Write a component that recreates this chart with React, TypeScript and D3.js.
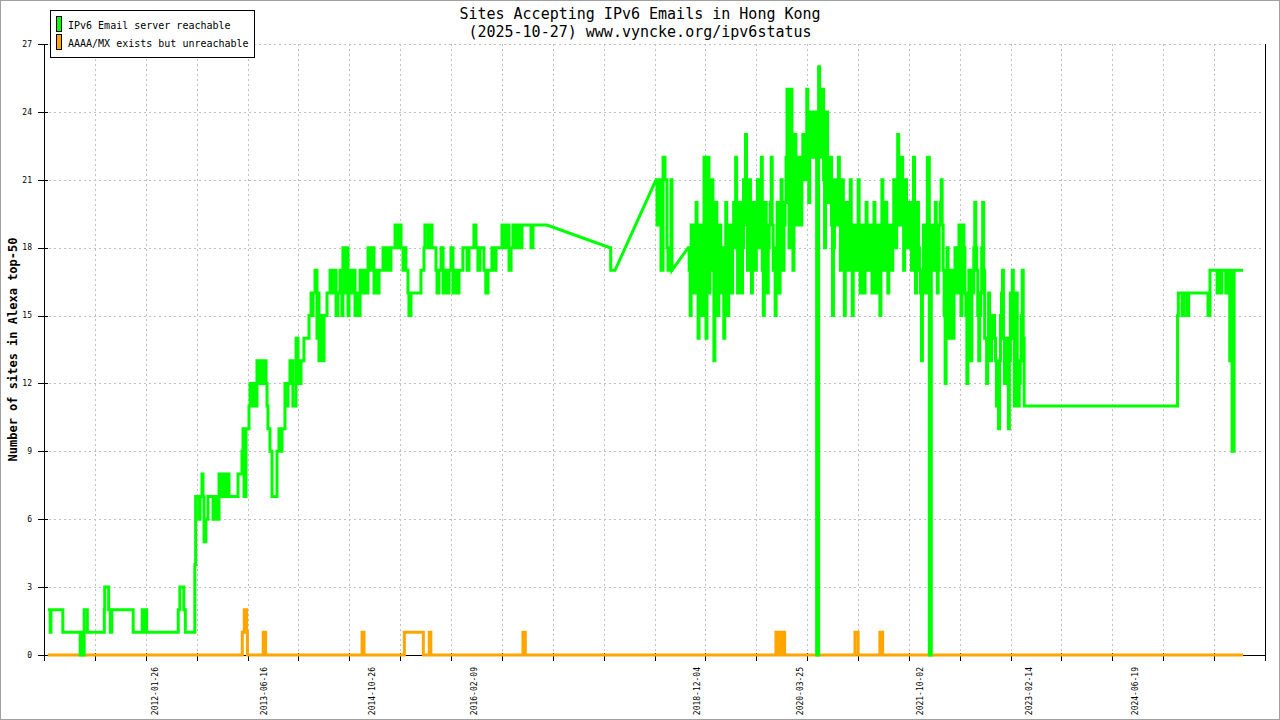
import React from 'react';
import * as d3 from 'd3';

type Pt = [number, number]; // [decimal year, sites]

// IPv6 email server reachable (decimal year, count)
const reachable: Pt[] = [
  [2010.75, 2], [2010.78, 1], [2010.79, 2], [2010.93, 2], [2010.94, 1], [2011.15, 1], [2011.16, 0], [2011.19, 1], [2011.2, 0], [2011.21, 2],
  [2011.25, 1], [2011.46, 1], [2011.465, 2], [2011.47, 3], [2011.52, 2], [2011.54, 1], [2011.56, 2], [2011.82, 2], [2011.83, 1], [2011.94, 1],
  [2011.945, 2], [2011.96, 1], [2011.98, 2], [2012.0, 1], [2012.39, 1], [2012.4, 2], [2012.42, 3], [2012.47, 2], [2012.49, 1], [2012.6, 1],
  [2012.61, 4], [2012.62, 7], [2012.66, 6], [2012.675, 7], [2012.7, 8], [2012.713, 7], [2012.726, 5], [2012.75, 6], [2012.776, 7], [2012.84, 6],
  [2012.878, 7], [2012.89, 6], [2012.916, 8], [2012.95, 7], [2012.98, 8], [2013.004, 7], [2013.03, 8], [2013.042, 7], [2013.156, 8], [2013.206, 9],
  [2013.219, 10], [2013.232, 7], [2013.257, 10], [2013.295, 11], [2013.308, 12], [2013.333, 11], [2013.358, 12], [2013.384, 11], [2013.396, 13], [2013.422, 12],
  [2013.447, 13], [2013.472, 12], [2013.498, 13], [2013.51, 12], [2013.523, 11], [2013.535, 10], [2013.56, 9], [2013.586, 7], [2013.649, 9], [2013.674, 10],
  [2013.7, 9], [2013.712, 10], [2013.75, 12], [2013.763, 11], [2013.788, 12], [2013.813, 13], [2013.85, 11], [2013.89, 14], [2013.915, 12], [2013.953, 13],
  [2013.99, 14], [2014.054, 15], [2014.08, 16], [2014.092, 15], [2014.105, 16], [2014.13, 17], [2014.155, 14], [2014.168, 16], [2014.18, 13], [2014.206, 15],
  [2014.218, 13], [2014.244, 15], [2014.282, 16], [2014.32, 17], [2014.345, 16], [2014.37, 17], [2014.396, 15], [2014.42, 16], [2014.446, 17], [2014.47, 15],
  [2014.483, 18], [2014.51, 16], [2014.52, 18], [2014.547, 15], [2014.56, 17], [2014.585, 16], [2014.61, 17], [2014.636, 15], [2014.649, 16], [2014.674, 15],
  [2014.7, 17], [2014.725, 16], [2014.75, 17], [2014.788, 16], [2014.8, 18], [2014.826, 17], [2014.85, 18], [2014.876, 16], [2014.889, 17], [2014.914, 16],
  [2014.94, 17], [2014.99, 18], [2015.015, 17], [2015.04, 18], [2015.066, 17], [2015.09, 18], [2015.142, 19], [2015.18, 18], [2015.205, 19], [2015.218, 18],
  [2015.243, 17], [2015.268, 18], [2015.28, 17], [2015.306, 16], [2015.318, 15], [2015.344, 16], [2015.458, 16], [2015.47, 17], [2015.508, 18], [2015.52, 19],
  [2015.559, 18], [2015.572, 19], [2015.61, 18], [2015.66, 17], [2015.673, 16], [2015.698, 17], [2015.724, 18], [2015.75, 16], [2015.774, 17], [2015.8, 16],
  [2015.825, 17], [2015.85, 18], [2015.875, 16], [2015.9, 17], [2015.926, 16], [2015.951, 17], [2016.0, 18], [2016.053, 17], [2016.078, 18], [2016.14, 19],
  [2016.166, 18], [2016.19, 17], [2016.217, 18], [2016.267, 17], [2016.29, 16], [2016.318, 17], [2016.368, 18], [2016.394, 17], [2016.42, 18], [2016.495, 19],
  [2016.533, 18], [2016.558, 19], [2016.584, 17], [2016.61, 18], [2016.634, 19], [2016.672, 18], [2016.698, 19], [2016.723, 18], [2016.748, 19], [2016.862, 18],
  [2016.887, 19], [2017.064, 19], [2017.86, 18], [2017.87, 17], [2017.925, 17],
  [2018.443, 21], [2018.456, 19], [2018.468, 21], [2018.494, 20], [2018.506, 17], [2018.532, 22], [2018.557, 21], [2018.582, 18], [2018.595, 17], [2018.608, 18],
  [2018.633, 21], [2018.645, 17],
  [2018.85, 18], [2018.875, 15], [2018.9, 19], [2018.925, 16], [2018.95, 20], [2018.975, 14], [2019.0, 18], [2019.025, 15], [2019.05, 22], [2019.075, 14],
  [2019.1, 22], [2019.125, 17], [2019.15, 21], [2019.175, 13], [2019.2, 20], [2019.225, 15], [2019.25, 19], [2019.275, 16], [2019.3, 14], [2019.325, 20],
  [2019.35, 15], [2019.375, 19], [2019.4, 16], [2019.425, 20], [2019.45, 22], [2019.475, 16], [2019.5, 20], [2019.525, 16], [2019.55, 21], [2019.575, 23],
  [2019.6, 17], [2019.625, 21], [2019.65, 16], [2019.675, 20], [2019.7, 17], [2019.725, 21], [2019.75, 18], [2019.775, 22], [2019.8, 15], [2019.825, 20],
  [2019.85, 16], [2019.875, 19], [2019.9, 22], [2019.925, 17], [2019.95, 15], [2019.975, 20], [2020.0, 16], [2020.025, 21], [2020.05, 17], [2020.075, 20],
  [2020.1, 25], [2020.125, 18], [2020.15, 25], [2020.175, 17], [2020.2, 23], [2020.225, 19], [2020.25, 22], [2020.275, 19], [2020.3, 23], [2020.325, 21],
  [2020.35, 25], [2020.375, 20], [2020.4, 24], [2020.425, 22], [2020.45, 24], [2020.475, 0], [2020.5, 26], [2020.525, 22], [2020.55, 25], [2020.575, 18],
  [2020.6, 24], [2020.625, 20], [2020.65, 22], [2020.675, 15], [2020.7, 21], [2020.725, 19], [2020.75, 22], [2020.775, 17], [2020.8, 21], [2020.825, 15],
  [2020.85, 20], [2020.875, 17], [2020.9, 21], [2020.925, 15], [2020.95, 19], [2020.975, 17], [2021.0, 21], [2021.025, 16], [2021.05, 19], [2021.075, 16],
  [2021.1, 20], [2021.125, 17], [2021.15, 19], [2021.175, 16], [2021.2, 20], [2021.225, 16], [2021.25, 19], [2021.275, 15], [2021.3, 21], [2021.325, 17],
  [2021.35, 20], [2021.375, 16], [2021.4, 19], [2021.425, 17], [2021.45, 21], [2021.475, 18], [2021.5, 23], [2021.525, 19], [2021.55, 22], [2021.575, 17],
  [2021.6, 21], [2021.625, 18], [2021.65, 20], [2021.675, 17], [2021.7, 22], [2021.725, 16], [2021.75, 20], [2021.775, 17], [2021.8, 13], [2021.825, 19],
  [2021.85, 16], [2021.875, 22], [2021.9, 0], [2021.925, 19], [2021.95, 17], [2021.975, 20], [2022.0, 16], [2022.025, 19], [2022.05, 21], [2022.075, 17],
  [2022.1, 12], [2022.125, 18], [2022.15, 14], [2022.175, 17], [2022.2, 14], [2022.225, 18], [2022.25, 16], [2022.275, 19], [2022.3, 15], [2022.325, 19],
  [2022.35, 16], [2022.375, 12], [2022.4, 17], [2022.425, 13], [2022.45, 16], [2022.475, 20], [2022.5, 17], [2022.525, 13], [2022.55, 16], [2022.575, 20],
  [2022.6, 14], [2022.625, 12], [2022.65, 16], [2022.675, 13], [2022.7, 15], [2022.725, 14], [2022.75, 11], [2022.775, 10], [2022.8, 15], [2022.825, 17],
  [2022.85, 12], [2022.875, 14], [2022.9, 10], [2022.925, 16], [2022.95, 17], [2022.975, 11], [2023.0, 16], [2023.025, 11], [2023.05, 13], [2023.075, 17],
  [2023.1, 11], [2025.03, 11], [2025.04, 15], [2025.05, 16], [2025.097, 15], [2025.12, 16], [2025.16, 15], [2025.18, 16], [2025.42, 16], [2025.425, 15],
  [2025.45, 17], [2025.54, 16], [2025.565, 17], [2025.578, 16], [2025.6, 17], [2025.65, 16], [2025.677, 17], [2025.7, 13], [2025.715, 17], [2025.73, 9],
  [2025.755, 17], [2025.87, 17],
];

// extra daily readings inside the noisy 2018-2023 stretch
const reachableExtra: Pt[] = [
  [2018.8625, 17], [2018.8875, 19], [2018.9125, 16], [2018.9375, 18], [2018.9625, 17], [2018.9875, 19], [2019.0125, 16], [2019.0375, 19], [2019.0625, 17], [2019.0875, 20],
  [2019.1125, 16], [2019.1375, 19], [2019.1625, 17], [2019.1875, 18], [2019.2125, 17], [2019.2375, 19], [2019.2625, 17], [2019.2875, 18], [2019.3125, 17], [2019.3375, 18],
  [2019.3625, 18], [2019.3875, 17], [2019.4125, 19], [2019.4375, 18], [2019.4625, 19], [2019.4875, 17], [2019.5125, 19], [2019.5375, 18], [2019.5625, 21], [2019.5875, 19],
  [2019.6125, 19], [2019.6375, 18], [2019.6625, 19], [2019.6875, 18], [2019.7125, 20], [2019.7375, 19], [2019.7625, 20], [2019.7875, 17], [2019.8125, 18], [2019.8375, 19],
  [2019.8625, 18], [2019.8875, 20], [2019.9125, 19], [2019.9375, 18], [2019.9625, 17], [2019.9875, 18], [2020.0125, 19], [2020.0375, 18], [2020.0625, 19], [2020.0875, 22],
  [2020.1125, 21], [2020.1375, 22], [2020.1625, 20], [2020.1875, 21], [2020.2125, 21], [2020.2375, 20], [2020.2625, 21], [2020.2875, 22], [2020.3125, 22], [2020.3375, 23],
  [2020.3625, 22], [2020.3875, 23], [2020.4125, 23], [2020.4375, 23], [2020.5125, 24], [2020.5375, 23], [2020.5625, 21], [2020.5875, 21],
  [2020.6125, 21], [2020.6375, 21], [2020.6625, 19], [2020.6875, 18], [2020.7125, 19], [2020.7375, 20], [2020.7625, 19], [2020.7875, 19], [2020.8125, 18], [2020.8375, 19],
  [2020.8625, 18], [2020.8875, 19], [2020.9125, 18], [2020.9375, 17], [2020.9625, 18], [2020.9875, 19], [2021.0125, 18], [2021.0375, 17], [2021.0625, 18], [2021.0875, 18],
  [2021.1125, 18], [2021.1375, 18], [2021.1625, 17], [2021.1875, 18], [2021.2125, 19], [2021.2375, 17], [2021.2625, 18], [2021.2875, 18], [2021.3125, 19], [2021.3375, 18],
  [2021.3625, 18], [2021.3875, 18], [2021.4125, 19], [2021.4375, 19], [2021.4625, 20], [2021.4875, 20], [2021.5125, 21], [2021.5375, 20], [2021.5625, 19], [2021.5875, 19],
  [2021.6125, 19], [2021.6375, 19], [2021.6625, 18], [2021.6875, 19], [2021.7125, 18], [2021.7375, 18], [2021.7625, 18], [2021.7875, 16], [2021.8125, 17], [2021.8375, 18],
  [2021.8625, 19], [2021.9375, 18], [2021.9625, 18], [2021.9875, 18], [2022.0125, 17], [2022.0375, 20], [2022.0625, 19], [2022.0875, 15],
  [2022.1125, 15], [2022.1375, 16], [2022.1625, 16], [2022.1875, 16], [2022.2125, 16], [2022.2375, 17], [2022.2625, 17], [2022.2875, 17], [2022.3125, 17], [2022.3375, 18],
  [2022.3625, 15], [2022.3875, 15], [2022.4125, 15], [2022.4375, 17], [2022.4625, 18], [2022.4875, 18], [2022.5125, 15], [2022.5375, 15], [2022.5625, 18], [2022.5875, 17],
  [2022.6125, 14], [2022.6375, 14], [2022.6625, 15], [2022.6875, 14], [2022.7125, 15], [2022.7375, 13], [2022.7625, 12], [2022.7875, 13], [2022.8125, 16], [2022.8375, 14],
  [2022.8625, 13], [2022.8875, 12], [2022.9125, 13], [2022.9375, 14], [2022.9625, 14], [2022.9875, 14], [2023.0125, 13], [2023.0375, 12], [2023.0625, 15], [2023.0875, 14],
];

// AAAA/MX exists but unreachable
const unreachable: Pt[] = [
  [2010.75, 0], [2013.2, 0], [2013.21, 1], [2013.235, 2], [2013.265, 1], [2013.275, 0], [2013.47, 0], [2013.475, 1], [2013.505, 0],
  [2014.72, 0], [2014.725, 1], [2014.75, 0], [2015.25, 0], [2015.26, 1], [2015.495, 1], [2015.5, 0], [2015.57, 0], [2015.575, 1], [2015.595, 0],
  [2016.755, 0], [2016.76, 1], [2016.79, 0], [2019.955, 0], [2019.96, 1], [2019.995, 0], [2020.005, 1], [2020.03, 0], [2020.04, 1], [2020.07, 0],
  [2020.955, 0], [2020.96, 1], [2021.0, 0], [2021.27, 0], [2021.275, 1], [2021.31, 0], [2025.87, 0],
];

const dateLabels = ['2012-01-26', '2013-06-16', '2014-10-26', '2016-02-09', '2018-12-04', '2020-03-25', '2021-10-02', '2023-02-14', '2024-06-19'];
const yTicks = [0, 3, 6, 9, 12, 15, 18, 21, 24, 27];
const titleLines = ['Sites Accepting IPv6 Emails in Hong Kong', '(2025-10-27) www.vyncke.org/ipv6status'];
const legendItems = [
  { label: 'IPv6 Email server reachable', color: '#00ff00' },
  { label: 'AAAA/MX exists but unreachable', color: '#ffa500' },
];

const W = 1280;
const H = 720;
const M = { left: 44, right: 1265, top: 44, bottom: 655 };
const FONT = '"DejaVu Sans Mono", "Liberation Mono", monospace';

const toYear = (s: string) => {
  const [yy, mm, dd] = s.split('-').map(Number);
  const start = Date.UTC(yy, 0, 1);
  const end = Date.UTC(yy + 1, 0, 1);
  return yy + (Date.UTC(yy, mm - 1, dd) - start) / (end - start);
};

// daily samples: short gaps drawn as steps, long gaps joined straight
const stepify = (data: Pt[]): Pt[] => {
  const out: Pt[] = [];
  data.forEach((d, i) => {
    if (i > 0) {
      const prev = data[i - 1];
      if ((d[0] - prev[0]) * 365.25 <= 60) out.push([d[0], prev[1]]);
    }
    out.push(d);
  });
  return out;
};

const App: React.FC = () => {
  const x = d3.scaleLinear().domain([2010.702, 2026.146]).range([M.left, M.right]);
  const y = d3.scaleLinear().domain([0, 27]).range([M.bottom, M.top]);
  const line = d3.line<Pt>().x(d => x(d[0])).y(d => y(d[1]));

  const green = [...reachable, ...reachableExtra].sort((a, b) => a[0] - b[0]);

  const [d0, d1] = x.domain();
  const gridYears = d3.range(25).map(k => d0 + (k * (d1 - d0)) / 24);

  return (
    <div style={{ position: 'absolute', left: 0, top: 0 }}>
      <svg width={W} height={H} style={{ display: 'block' }}>
        <rect x={0} y={0} width={W} height={H} fill="#fff" />
        <rect x={0.5} y={0.5} width={W - 1} height={H - 1} fill="none" stroke="#a0a0a0" />

        {/* grid */}
        <g stroke="#c0c0c0" strokeDasharray="2,3" strokeWidth={1}>
          {yTicks.slice(1).map(t => (
            <line key={'h' + t} x1={M.left} x2={M.right - 3} y1={Math.round(y(t)) + 0.5} y2={Math.round(y(t)) + 0.5} />
          ))}
          {gridYears.slice(1, -1).map((g, i) => (
            <line key={'v' + i} x1={Math.round(x(g)) + 0.5} x2={Math.round(x(g)) + 0.5} y1={M.top} y2={M.bottom} />
          ))}
        </g>

        {/* axes */}
        <g stroke="#000" strokeWidth={1}>
          <line x1={M.left + 0.5} x2={M.left + 0.5} y1={M.top} y2={M.bottom + 1} />
          <line x1={M.right + 0.5} x2={M.right + 0.5} y1={M.top} y2={M.bottom + 1} />
          <line x1={M.left} x2={M.right + 1} y1={M.bottom + 0.5} y2={M.bottom + 0.5} />
          {yTicks.map(t => (
            <line key={'yt' + t} x1={M.left - 6} x2={M.left + 4} y1={Math.round(y(t)) + 0.5} y2={Math.round(y(t)) + 0.5} />
          ))}
          {gridYears.map((g, i) => (
            <line key={'xt' + i} x1={Math.round(x(g)) + 0.5} x2={Math.round(x(g)) + 0.5} y1={M.bottom - 2} y2={M.bottom + 6} />
          ))}
        </g>

        <g fontFamily={FONT} fontSize={8} fill="#000">
          {yTicks.map(t => (
            <text key={'yl' + t} x={32} y={y(t)} dy="0.35em" textAnchor="end">{t}</text>
          ))}
          {dateLabels.map(s => (
            <text key={s} transform={`translate(${x(toYear(s)) + 3},667) rotate(-90)`} dy="0.35em" textAnchor="end">{s}</text>
          ))}
        </g>

        {/* series */}
        <path d={line(stepify(unreachable)) || ''} fill="none" stroke="#ffa500" strokeWidth={3} strokeLinejoin="miter" strokeLinecap="butt" />
        <path d={line(stepify(green)) || ''} fill="none" stroke="#00ff00" strokeWidth={3} strokeLinejoin="miter" strokeLinecap="butt" />

        {/* titles */}
        <g fontFamily={FONT} fontSize={15} fill="#000" textAnchor="middle">
          <text x={640} y={19}>{titleLines[0]}</text>
          <text x={640} y={37}>{titleLines[1]}</text>
        </g>
        <text
          transform={`translate(13,${(M.top + M.bottom) / 2}) rotate(-90)`}
          fontFamily={FONT} fontSize={12} fontWeight="bold" textAnchor="middle" dy="0.35em"
        >
          Number of sites in Alexa top-50
        </text>

        {/* legend */}
        <g>
          <rect x={50.5} y={10.5} width={204} height={47} fill="#fff" stroke="#000" />
          {legendItems.map((it, i) => (
            <g key={it.label}>
              <rect x={56.5} y={16.5 + i * 18} width={5} height={15} fill={it.color} stroke="#000" />
              <text x={68} y={25 + i * 18} dy="0.35em" fontFamily={FONT} fontSize={10}>{it.label}</text>
            </g>
          ))}
        </g>
      </svg>
    </div>
  );
};

export default App;
